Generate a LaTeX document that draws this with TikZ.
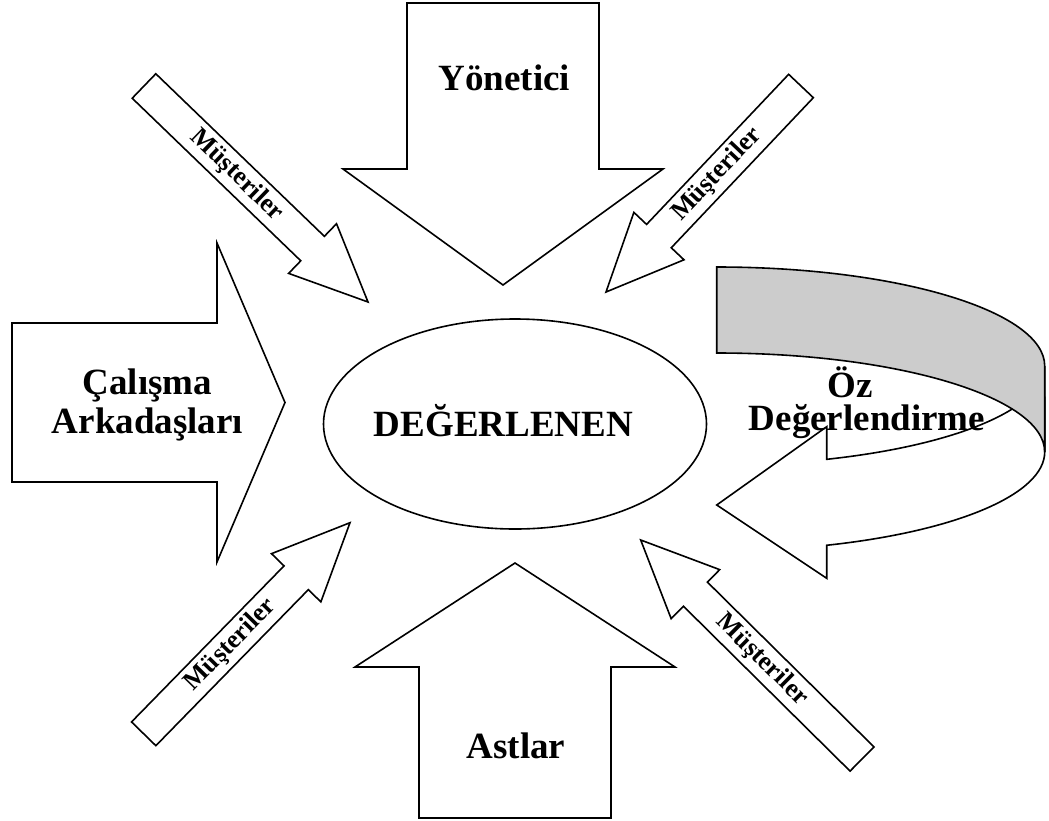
\documentclass[tikz,border=0pt]{standalone}
\usepackage{fontspec}
\setmainfont{Liberation Serif}
\usetikzlibrary{calc,shapes.geometric}
\tikzset{
  block/.style={draw=black, fill=white, line width=1.6pt, line join=miter},
  big/.style={font=\bfseries\fontsize{37}{39}\selectfont, inner sep=0pt},
  mus/.style={font=\bfseries\fontsize{26}{28}\selectfont, inner sep=0pt},
}
\newcommand{\MusArrow}[4]{%
  \coordinate (#3b) at ($(#2)!77pt!(#1)$);
  \draw[block] ($(#1)!17pt!90:(#2)$) -- ($(#3b)!17pt!90:(#2)$) -- ($(#3b)!34.5pt!90:(#2)$) -- (#2) -- ($(#3b)!34.5pt!-90:(#2)$) -- ($(#3b)!17pt!-90:(#2)$) -- ($(#1)!17pt!-90:(#2)$) -- cycle;
  \path (#1) -- (#3b) node[mus, sloped, pos=#4] (#3) {Müşteriler};
}
\begin{document}
\begin{tikzpicture}[x=1pt,y=-1pt]
\useasboundingbox[fill=white] (0,0) rectangle (1049,820);

% Musteriler arrows
\coordinate (t1) at (144,86);    \coordinate (p1) at (368,302);
\coordinate (t2) at (801,86);    \coordinate (p2) at (606,292);
\coordinate (t3) at (143.7,733.8); \coordinate (p3) at (350,522.7);
\coordinate (t4) at (862,759);   \coordinate (p4) at (640.7,540);
\MusArrow{t1}{p1}{m1}{0.55}
\MusArrow{t2}{p2}{m2}{0.59}
\MusArrow{t3}{p3}{m3}{0.57}
\MusArrow{t4}{p4}{m4}{0.60}

% top arrow
\draw[block] (407,3) -- (599,3) -- (599,169) -- (663,169) -- (503,285) -- (343,169) -- (407,169) -- cycle;
\node[big, anchor=base] (yon) at (504.5,90) {Yönetici};

% bottom arrow
\draw[block] (419,818) -- (611,818) -- (611,667) -- (675,667) -- (515,563) -- (355,667) -- (419,667) -- cycle;
\node[big, anchor=base] (ast) at (516,758) {Astlar};

% left arrow
\draw[block] (12,323) -- (217,323) -- (217,243) -- (285,402.5) -- (217,562) -- (217,482) -- (12,482) -- cycle;
\node[big, anchor=base, align=center] (cal) at (147.5,433) {Çalışma\\Arkadaşları};

% centre ellipse
\node[block, ellipse, minimum width=383pt, minimum height=210pt, inner sep=0pt] (deg) at (515,424) {};
\node[big, anchor=base] (degtext) at (503.5,436) {DEĞERLENEN};

% curved self-evaluation arrow
\draw[block] (716.7,505) -- (826.7,426.7) -- (826.7,459.3)
  arc[start angle=-70.4, end angle=0, x radius=328pt, y radius=99pt]
  -- (1044.7,452)
  arc[start angle=0, end angle=-70.4, x radius=328pt, y radius=99pt]
  -- (826.7,578.3) -- cycle;
\draw[block, fill=black!20] (716.7,267)
  arc[start angle=90, end angle=0, x radius=328pt, y radius=99pt]
  -- (1044.7,452)
  arc[start angle=0, end angle=90, x radius=328pt, y radius=99pt] -- cycle;
\node[font=\bfseries\fontsize{37}{33}\selectfont, inner sep=0pt, anchor=base, align=center] (oz) at (867,430) {Öz\hspace*{33pt}\\Değerlendirme};
\end{tikzpicture}
\end{document}
